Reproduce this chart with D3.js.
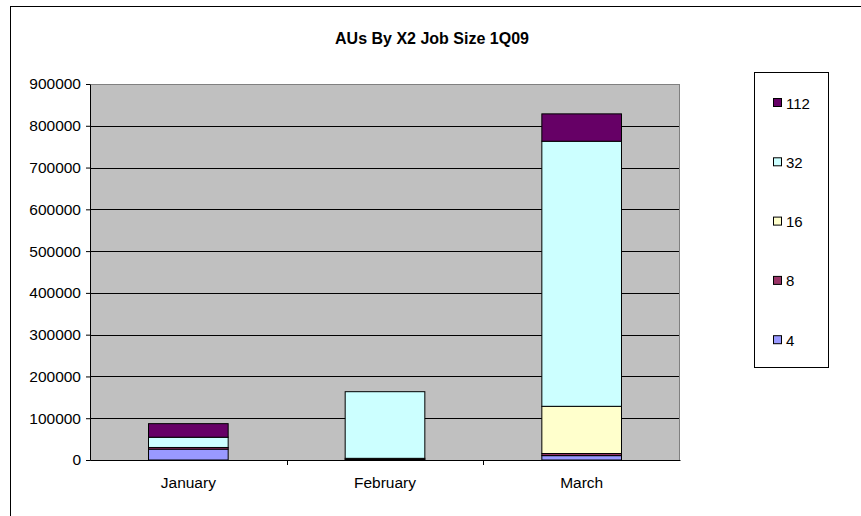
<!DOCTYPE html>
<html>
<head>
<meta charset="utf-8">
<script src="https://cdn.jsdelivr.net/npm/d3@7"></script>
<style>
  body { margin: 0; background: #fff; }
  svg text { font-family: "Liberation Sans", Arial, sans-serif; }
</style>
</head>
<body>
<div id="chart"></div>
<script>
// data
const months = ["January", "February", "March"];
const jobSizes = ["4", "8", "16", "32", "112"];
const au4   = [26000, 1500, 10500];
const au8   = [4000, 2500, 5000];
const au16  = [0, 0, 113000];
const au32  = [24500, 159500, 634500];
const au112 = [32500, 0, 65500];
const yTicks = [0, 100000, 200000, 300000, 400000, 500000, 600000, 700000, 800000, 900000];

const colors = {
  "4": "#9999FF",
  "8": "#993366",
  "16": "#FFFFCC",
  "32": "#CCFFFF",
  "112": "#660066"
};

const W = 861, H = 516;
const plot = { left: 90, right: 680, top: 84, bottom: 460 };

const svg = d3.select("#chart").append("svg")
  .attr("width", W)
  .attr("height", H);

// outer chart frame
svg.append("rect")
  .attr("x", 10.5).attr("y", 6.5)
  .attr("width", W + 10).attr("height", H + 10)
  .attr("fill", "#fff")
  .attr("stroke", "#000")
  .attr("stroke-width", 1);

// title
svg.append("text")
  .attr("x", 432)
  .attr("y", 44)
  .attr("text-anchor", "middle")
  .style("font-size", "16px")
  .style("font-weight", "bold")
  .text("AUs By X2 Job Size 1Q09");

// table of rows for stacking
const rows = months.map((m, i) => ({
  month: m, "4": au4[i], "8": au8[i], "16": au16[i], "32": au32[i], "112": au112[i]
}));
const series = d3.stack().keys(jobSizes)(rows);

const x = d3.scaleBand()
  .domain(months)
  .range([plot.left, plot.right])
  .paddingInner(0.595)
  .paddingOuter(0.2975);

const y = d3.scaleLinear()
  .domain([0, 900000])
  .range([plot.bottom, plot.top]);

// plot background
svg.append("rect")
  .attr("x", plot.left).attr("y", plot.top)
  .attr("width", plot.right - plot.left)
  .attr("height", plot.bottom - plot.top)
  .attr("fill", "#C0C0C0");

// gridlines
svg.append("g")
  .selectAll("line")
  .data(yTicks.filter(d => d > 0))
  .enter().append("line")
  .attr("x1", plot.left).attr("x2", plot.right)
  .attr("y1", d => Math.round(y(d)) + 0.5)
  .attr("y2", d => Math.round(y(d)) + 0.5)
  .attr("stroke", "#000")
  .attr("stroke-width", 1);

// plot border
svg.append("rect")
  .attr("x", plot.left + 0.5).attr("y", plot.top + 0.5)
  .attr("width", plot.right - plot.left - 1)
  .attr("height", plot.bottom - plot.top)
  .attr("fill", "none")
  .attr("stroke", "#808080");

// bars
svg.append("g")
  .selectAll("g")
  .data(series)
  .enter().append("g")
  .attr("fill", d => colors[d.key])
  .selectAll("rect")
  .data(d => d.filter(v => v[1] - v[0] > 0))
  .enter().append("rect")
  .attr("x", d => x(d.data.month))
  .attr("y", d => y(d[1]))
  .attr("width", x.bandwidth())
  .attr("height", d => y(d[0]) - y(d[1]))
  .attr("stroke", "#000")
  .attr("stroke-width", 1);

// y axis
const yAxis = svg.append("g")
  .attr("transform", `translate(${plot.left},0)`)
  .call(d3.axisLeft(y).tickValues(yTicks).tickSize(4).tickSizeOuter(0).tickPadding(5).tickFormat(d3.format("d")));
yAxis.select(".domain").attr("stroke", "#000");
yAxis.selectAll("text").style("font-size", "15.5px").style("font-family", "Liberation Sans, Arial, sans-serif");

// x axis
const xAxis = svg.append("g")
  .attr("transform", `translate(0,${plot.bottom})`)
  .call(d3.axisBottom(x).tickSize(0).tickPadding(17));
xAxis.select(".domain").attr("stroke", "#000");
xAxis.selectAll("text").style("font-size", "15.5px").style("font-family", "Liberation Sans, Arial, sans-serif");

// x tick marks between categories
const step = x.step();
svg.append("g")
  .selectAll("line")
  .data(months.slice(1))
  .enter().append("line")
  .attr("x1", d => Math.round(x(d) - x.paddingInner() * step / 2) + 0.5)
  .attr("x2", d => Math.round(x(d) - x.paddingInner() * step / 2) + 0.5)
  .attr("y1", plot.bottom).attr("y2", plot.bottom + 5)
  .attr("stroke", "#000");

// legend
const legend = svg.append("g");
legend.append("rect")
  .attr("x", 754.5).attr("y", 72.5)
  .attr("width", 74).attr("height", 295)
  .attr("fill", "#fff")
  .attr("stroke", "#000");

const legendItems = legend.selectAll(".legend-item")
  .data(jobSizes.slice().reverse())
  .enter().append("g")
  .attr("class", "legend-item")
  .attr("transform", (d, i) => `translate(773, ${103 + i * 59.3})`);

legendItems.append("rect")
  .attr("x", 0.5).attr("y", -4.5)
  .attr("width", 8).attr("height", 8)
  .attr("fill", d => colors[d])
  .attr("stroke", "#000");

legendItems.append("text")
  .attr("x", 13)
  .attr("y", 5.5)
  .style("font-size", "15px")
  .text(d => d);
</script>
</body>
</html>
